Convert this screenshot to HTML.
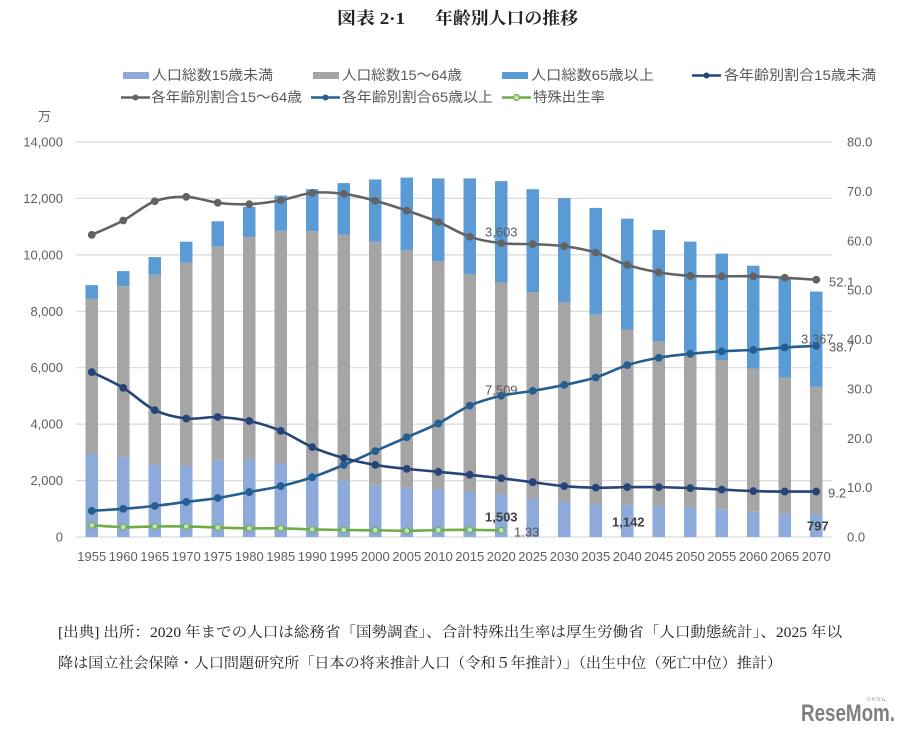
<!DOCTYPE html>
<html><head><meta charset="utf-8">
<style>
html,body{margin:0;padding:0;background:#fff;}
svg{display:block;}
.ax{font-family:"Liberation Sans","Noto Sans CJK JP",sans-serif;font-size:13px;fill:#5f5f5f;}
.lg{font-family:"Liberation Sans","Noto Sans CJK JP",sans-serif;font-size:14px;fill:#595959;}
.dl{font-family:"Liberation Sans",sans-serif;font-size:13px;fill:#595959;}
.db{font-family:"Liberation Sans",sans-serif;font-size:13px;fill:#404040;font-weight:bold;}
.tt{font-family:"Liberation Serif","Noto Serif CJK SC",serif;font-size:17px;font-weight:bold;fill:#222;}
.ft{font-family:"Liberation Serif","Noto Serif CJK SC",serif;font-size:14.5px;fill:#222;}
</style></head>
<body>
<svg id="svg" width="909" height="738" viewBox="0 0 909 738" xmlns="http://www.w3.org/2000/svg">
<rect width="909" height="738" fill="#fff"/>
<!-- title -->
<text class="tt" x="337" y="24" textLength="68" lengthAdjust="spacingAndGlyphs">図表 2·1</text>
<text class="tt" x="435" y="24" textLength="143" lengthAdjust="spacingAndGlyphs">年齢別人口の推移</text>

<!-- legend row 1 -->
<rect x="123" y="72" width="26" height="7" fill="#8eaadb"/>
<text class="lg" x="152" y="80" textLength="121" lengthAdjust="spacingAndGlyphs">人口総数15歳未満</text>
<rect x="313" y="72" width="26" height="7" fill="#a5a5a5"/>
<text class="lg" x="342" y="80" textLength="120" lengthAdjust="spacingAndGlyphs">人口総数15～64歳</text>
<rect x="502" y="72" width="26" height="7" fill="#5b9bd5"/>
<text class="lg" x="531" y="80" textLength="123" lengthAdjust="spacingAndGlyphs">人口総数65歳以上</text>
<line x1="692" y1="75.5" x2="721" y2="75.5" stroke="#264478" stroke-width="2.5"/>
<circle cx="706.5" cy="75.5" r="3" fill="#264478"/>
<text class="lg" x="724" y="80" textLength="152" lengthAdjust="spacingAndGlyphs">各年齢別割合15歳未満</text>
<!-- legend row 2 -->
<line x1="121" y1="97.5" x2="150" y2="97.5" stroke="#636363" stroke-width="2.5"/>
<circle cx="135.5" cy="97.5" r="3" fill="#636363"/>
<text class="lg" x="151" y="102" textLength="151" lengthAdjust="spacingAndGlyphs">各年齢別割合15～64歳</text>
<line x1="311" y1="97.5" x2="340" y2="97.5" stroke="#255e91" stroke-width="2.5"/>
<circle cx="325.5" cy="97.5" r="3" fill="#255e91"/>
<text class="lg" x="342" y="102" textLength="151" lengthAdjust="spacingAndGlyphs">各年齢別割合65歳以上</text>
<line x1="502" y1="97.5" x2="531" y2="97.5" stroke="#70ad47" stroke-width="2.5"/>
<circle cx="516.5" cy="97.5" r="3" fill="#c5e0b4" stroke="#70ad47" stroke-width="1.2"/>
<text class="lg" x="533" y="102" textLength="72" lengthAdjust="spacingAndGlyphs">特殊出生率</text>

<text class="ax" x="38" y="121">万</text>

<!-- gridlines -->
<g stroke="#d9d9d9" stroke-width="1.2">
<line x1="76" y1="142" x2="832" y2="142"/>
<line x1="76" y1="198.4" x2="832" y2="198.4"/>
<line x1="76" y1="254.9" x2="832" y2="254.9"/>
<line x1="76" y1="311.3" x2="832" y2="311.3"/>
<line x1="76" y1="367.7" x2="832" y2="367.7"/>
<line x1="76" y1="424.1" x2="832" y2="424.1"/>
<line x1="76" y1="480.6" x2="832" y2="480.6"/>
<line x1="76" y1="537" x2="832" y2="537"/>
</g>

<!-- left axis labels -->
<g class="ax" text-anchor="end">
<text x="63" y="146.5">14,000</text>
<text x="63" y="202.9">12,000</text>
<text x="63" y="259.4">10,000</text>
<text x="63" y="315.8">8,000</text>
<text x="63" y="372.2">6,000</text>
<text x="63" y="428.6">4,000</text>
<text x="63" y="485.1">2,000</text>
<text x="63" y="541.5">0</text>
</g>
<!-- right axis labels -->
<g class="ax">
<text x="847" y="146.5">80.0</text>
<text x="847" y="195.9">70.0</text>
<text x="847" y="245.3">60.0</text>
<text x="847" y="294.6">50.0</text>
<text x="847" y="344">40.0</text>
<text x="847" y="393.4">30.0</text>
<text x="847" y="442.8">20.0</text>
<text x="847" y="492.1">10.0</text>
<text x="847" y="541.5">0.0</text>
</g>
<!-- x labels -->
<g class="ax" text-anchor="middle">
<text x="91.75" y="561">1955</text>
<text x="123.25" y="561">1960</text>
<text x="154.75" y="561">1965</text>
<text x="186.25" y="561">1970</text>
<text x="217.75" y="561">1975</text>
<text x="249.25" y="561">1980</text>
<text x="280.75" y="561">1985</text>
<text x="312.25" y="561">1990</text>
<text x="343.75" y="561">1995</text>
<text x="375.25" y="561">2000</text>
<text x="406.75" y="561">2005</text>
<text x="438.25" y="561">2010</text>
<text x="469.75" y="561">2015</text>
<text x="501.25" y="561">2020</text>
<text x="532.75" y="561">2025</text>
<text x="564.25" y="561">2030</text>
<text x="595.75" y="561">2035</text>
<text x="627.25" y="561">2040</text>
<text x="658.75" y="561">2045</text>
<text x="690.25" y="561">2050</text>
<text x="721.75" y="561">2055</text>
<text x="753.25" y="561">2060</text>
<text x="784.75" y="561">2065</text>
<text x="816.25" y="561">2070</text>
</g>

<g id="plot"></g>

<!-- data labels -->
<text class="dl" x="485" y="236.5">3,603</text>
<text class="dl" x="485" y="394.5">7,509</text>
<text class="db" x="485" y="521.5">1,503</text>
<text class="dl" x="514" y="536.5">1.33</text>
<text class="db" x="612" y="526.5">1,142</text>
<text class="db" x="807" y="530.5">797</text>
<text class="dl" x="801" y="343.5">3,367</text>
<text class="dl" x="829" y="351.5">38.7</text>
<text class="dl" x="829" y="286.5">52.1</text>
<text class="dl" x="828" y="497.5">9.2</text>

<!-- footer -->
<text class="ft" x="58" y="637" textLength="784" lengthAdjust="spacingAndGlyphs">[出典] 出所：2020 年までの人口は総務省「国勢調査」、合計特殊出生率は厚生労働省「人口動態統計」、2025 年以</text>
<text class="ft" x="58" y="668" textLength="724" lengthAdjust="spacingAndGlyphs">降は国立社会保障・人口問題研究所「日本の将来推計人口（令和５年推計）」（出生中位（死亡中位）推計）</text>

<!-- logo -->
<text x="866" y="701" font-family="Liberation Sans,Noto Sans CJK JP,sans-serif" font-size="5" fill="#888">リセマム</text>
<text x="801" y="721" font-family="Liberation Sans,sans-serif" font-size="24" font-weight="bold" fill="#7f7f7f" textLength="94" lengthAdjust="spacingAndGlyphs">ReseMom.</text>
</svg>
<script>
(function(){
var NS="http://www.w3.org/2000/svg";
var g=document.getElementById('plot');
function el(t,a){var e=document.createElementNS(NS,t);for(var k in a)e.setAttribute(k,a[k]);g.appendChild(e);return e;}
function X(i){return 91.75+31.5*i;}
function YL(v){return 537-v*395/14000;}
function YR(p){return 537-p*395/80;}
var u=[2980,2843,2553,2515,2722,2751,2603,2249,2001,1847,1752,1680,1595,1503,1363,1240,1169,1142,1103,1041,966,893,840,797];
var m=[5473,6047,6744,7212,7581,7883,8251,8590,8716,8622,8409,8103,7729,7509,7310,7076,6722,6213,5832,5540,5307,5078,4809,4535];
var o=[475,535,624,739,887,1065,1247,1489,1826,2204,2576,2925,3387,3603,3653,3696,3773,3928,3945,3888,3770,3644,3502,3367];
var r1=[33.4,30.2,25.7,24.0,24.3,23.5,21.5,18.2,16.0,14.6,13.8,13.2,12.6,11.9,11.1,10.3,10.0,10.1,10.1,9.9,9.6,9.3,9.2,9.2];
var r2=[61.2,64.1,68.0,68.9,67.7,67.4,68.2,69.7,69.5,68.1,66.1,63.8,60.8,59.5,59.3,58.9,57.6,55.1,53.6,52.9,52.8,52.8,52.5,52.1];
var r3=[5.3,5.7,6.3,7.1,7.9,9.1,10.3,12.1,14.6,17.4,20.2,23.0,26.6,28.6,29.6,30.8,32.3,34.8,36.3,37.1,37.6,37.9,38.4,38.7];
var tf=[2.37,2.00,2.14,2.13,1.91,1.75,1.76,1.54,1.42,1.36,1.26,1.39,1.45,1.33];
var w=12.5;
for(var i=0;i<24;i++){
 var x=X(i)-w/2;
 var y0=537,y1=YL(u[i]),y2=YL(u[i]+m[i]),y3=YL(u[i]+m[i]+o[i]);
 el('rect',{x:x,y:y1,width:w,height:y0-y1,fill:'#8eaadb'});
 el('rect',{x:x,y:y2,width:w,height:y1-y2,fill:'#a5a5a5'});
 el('rect',{x:x,y:y3,width:w,height:y2-y3,fill:'#5b9bd5'});
}
function path(p){var d='M'+p[0][0]+','+p[0][1];
 for(var i=0;i<p.length-1;i++){var p0=p[i-1]||p[i],p1=p[i],p2=p[i+1],p3=p[i+2]||p2;
  var c1=[p1[0]+(p2[0]-p0[0])/6,p1[1]+(p2[1]-p0[1])/6];
  var c2=[p2[0]-(p3[0]-p1[0])/6,p2[1]-(p3[1]-p1[1])/6];
  d+=' C'+c1[0]+','+c1[1]+' '+c2[0]+','+c2[1]+' '+p2[0]+','+p2[1];}
 return d;}
function series(arr,col,fill,r){
 var p=arr.map(function(v,i){return [X(i),YR(v)];});
 el('path',{d:path(p),fill:'none',stroke:col,'stroke-width':2.6,'stroke-linejoin':'round'});
 p.forEach(function(q){el('circle',{cx:q[0],cy:q[1],r:r,fill:fill,stroke:col,'stroke-width':1.2});});
}
series(tf,'#70ad47','#c5e0b4',3);
series(r3,'#255e91','#255e91',3.3);
series(r1,'#264478','#264478',3.3);
series(r2,'#636363','#636363',3.3);
})();
</script>
</body></html>
